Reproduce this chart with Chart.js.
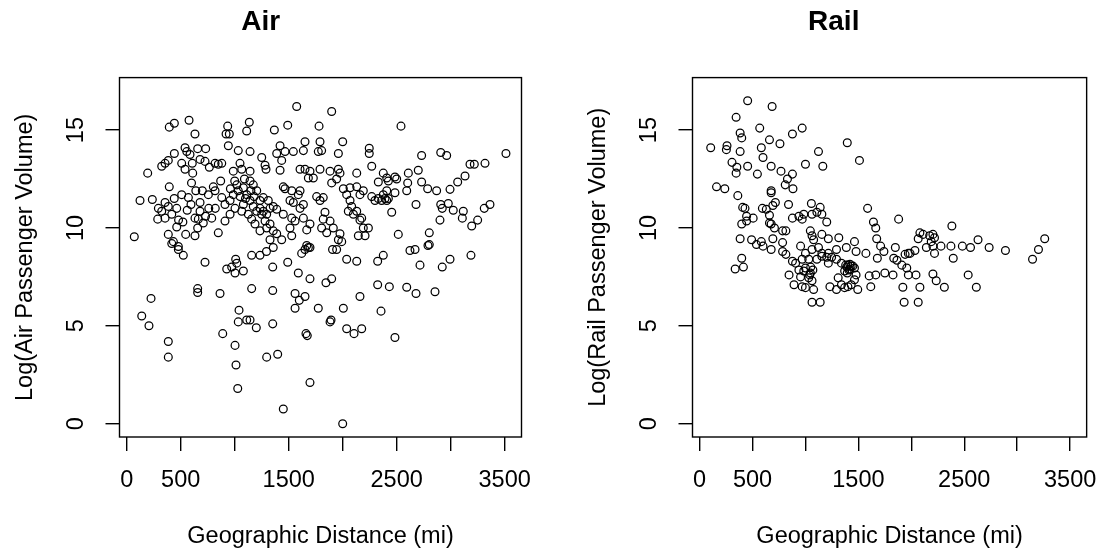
<!DOCTYPE html>
<html lang="en">
<head>
<meta charset="UTF-8">
<title>Air and Rail passenger volume vs distance</title>
<script src="https://cdn.jsdelivr.net/npm/chart.js"></script>
<style>
  html, body { margin: 0; padding: 0; background: #fff; overflow: hidden; }
  #wrap { position: relative; width: 1112px; height: 555px; }
  .panel { position: absolute; top: 0; height: 555px; }
  #panelAir { left: 0; width: 556px; }
  #panelRail { left: 573px; width: 539px; }
</style>
</head>
<body>
<div id="wrap">
  <div class="panel" id="panelAir"><canvas id="chartAir"></canvas></div>
  <div class="panel" id="panelRail"><canvas id="chartRail"></canvas></div>
</div>
<script>
// axis ticks (R drops the labels that would overlap)
const xTicks = [0, 500, 1000, 1500, 2000, 2500, 3000, 3500];
const xTickLabels = ['0', '500', '', '1500', '', '2500', '', '3500'];
const yTicks = [0, 5, 10, 15];
const yTickLabels = ['0', '5', '10', '15'];

// Air: distance (mi) and log passenger volume
const airDistance = [
  441, 394, 577, 632, 935, 950, 920, 1135, 1111, 194,
  324, 355, 385, 441, 540, 556, 586, 657, 731, 509,
  540, 607, 611, 679, 725, 765, 818, 848, 880, 941,
  1033, 1142, 987, 1049, 1065, 1142, 394, 509, 123, 237,
  293, 355, 385, 324, 287, 355, 463, 417, 571, 595,
  679, 679, 663, 787, 802, 756, 818, 880, 910, 957,
  987, 1033, 1080, 1111, 1142, 1003, 1065, 1126, 957, 910,
  385, 463, 546, 632, 657, 709, 632, 848, 70, 432,
  478, 225, 139, 206, 385, 385, 725, 657, 657, 864,
  1040, 1033, 1111, 889, 1003, 1012, 1028, 926, 972, 1009,
  1019, 1003, 1080, 1157, 1157, 1200, 417, 478, 524, 1234,
  1294, 1357, 1651, 1620, 1682, 1906, 1944, 1352, 1491, 1589,
  1697, 1845, 1898, 2037, 2130, 2324, 2376, 2324, 2432, 1352,
  1559, 1598, 1651, 1559, 1774, 2006, 2160, 2355, 1892, 1883,
  2037, 2105, 2176, 1660, 1672, 1142, 1352, 1296, 1398, 1697,
  1450, 2000, 2623, 2670, 2790, 2716, 2922, 2994, 3188, 2593,
  2679, 2855, 2484, 2540, 2731, 2908, 2963, 3512, 3179, 3219,
  3318, 3133, 3065, 2700, 2608, 2484, 2500, 2423, 2602, 2593,
  2484, 2731, 2787, 2870, 2994, 2392, 2679, 2454, 2908, 2922,
  2978, 3024, 3117, 3108, 2901, 3250, 3195, 3311, 3364, 2515,
  2802, 2802, 1574, 1898, 1367, 1491, 1781, 1651, 1790, 2000,
  1774, 1805, 1960, 2246, 2246, 1420, 1389, 1466, 1543, 1636,
  1420, 1435, 1250, 1281, 1290, 2269, 1605, 1651, 1697, 1728,
  1682, 1790, 1883, 1960, 1975, 2130, 1898, 1944, 2330, 2376,
  2408, 2006, 2068, 2130, 2160, 2191, 2269, 2299, 2376, 2408,
  1450, 1466, 1528, 1605, 1589, 1265, 1311, 1234, 1327, 1357,
  1389, 1172, 1296, 1512, 1543, 1605, 1636, 1759, 1790, 1820,
  1836, 1820, 1883, 1913, 1805, 1852, 1697, 1667, 1512, 1528,
  1450, 1636, 1559, 2037, 2068, 2083, 2052, 2099, 2130, 2160,
  2191, 2207, 2145, 2176, 2238, 2330, 2361, 2408, 2423, 1975,
  1960, 1991, 1528, 1667, 1697, 1142, 1172, 1204, 1234, 1265,
  1204, 1250, 1281, 1327, 1357, 1389, 1435, 1327, 1234, 1188,
  1157, 1296, 1080, 1100, 1050, 1020, 1150, 1180, 1090, 1000,
  960, 870, 820, 760, 730, 700, 640, 600, 560, 480,
  520, 440
];
const airVolume = [
  15.35, 15.15, 15.5, 14.8, 15.2, 14.8, 14.8, 15.4, 14.95, 12.8,
  13.15, 13.3, 13.45, 13.8, 14.1, 13.9, 13.75, 14.05, 14.05, 13.3,
  13.0, 13.3, 12.8, 13.5, 13.4, 13.1, 13.3, 13.25, 13.3, 14.2,
  13.95, 13.9, 12.9, 13.3, 13.0, 12.9, 12.1, 11.7, 11.4, 11.45,
  11.0, 11.3, 11.1, 10.85, 10.45, 10.5, 11.0, 10.7, 11.55, 11.2,
  11.3, 10.85, 10.45, 10.5, 12.1, 11.7, 11.9, 11.55, 11.2, 11.4,
  11.7, 11.9, 12.05, 11.7, 11.4, 11.0, 10.85, 10.7, 10.7, 10.35,
  9.67, 10.05, 9.67, 9.6, 10.0, 10.25, 10.5, 9.75, 9.55, 9.3,
  9.05, 6.4, 5.5, 5.0, 4.2, 3.4, 8.25, 6.9, 6.7, 6.65,
  5.8, 5.2, 5.3, 4.6, 4.0, 3.0, 1.8, 7.9, 8.0, 8.4,
  8.2, 7.7, 7.8, 8.6, 6.9, 4.9, 9.2, 8.9, 8.6, 8.6,
  8.8, 9.0, 8.9, 8.7, 9.0, 8.9, 8.9, 8.0, 8.25, 7.7,
  7.4, 7.2, 7.4, 8.4, 8.3, 8.3, 8.6, 7.1, 7.0, 6.8,
  6.65, 6.3, 6.5, 5.9, 5.9, 5.9, 6.5, 5.75, 5.3, 5.2,
  4.85, 4.6, 4.85, 4.6, 4.5, 5.3, 5.1, 3.4, 3.55, 2.1,
  0.75, 0.0, 8.85, 8.9, 9.1, 8.1, 8.0, 8.4, 8.6, 6.97,
  6.65, 6.74, 4.4, 15.2, 13.7, 13.85, 13.7, 13.8, 13.25, 13.25,
  13.3, 12.65, 12.35, 12.95, 12.8, 12.6, 12.5, 12.4, 12.3, 11.9,
  11.8, 12.35, 12.0, 11.9, 11.97, 11.5, 11.2, 10.8, 11.2, 11.0,
  11.25, 10.9, 10.85, 10.5, 10.4, 10.4, 10.1, 11.0, 11.2, 9.67,
  9.75, 9.15, 16.2, 15.95, 15.0, 15.25, 15.2, 14.4, 14.4, 14.4,
  13.9, 13.95, 13.8, 14.07, 13.8, 14.2, 13.8, 13.9, 13.9, 13.95,
  12.95, 13.45, 13.6, 13.2, 13.0, 13.15, 13.0, 13.0, 12.9, 12.55,
  12.55, 13.0, 12.9, 13.0, 12.8, 12.8, 12.3, 12.5, 12.35, 12.8,
  12.55, 12.0, 12.05, 12.1, 11.7, 11.9, 11.6, 11.4, 11.7, 11.4,
  12.1, 12.0, 11.9, 11.9, 11.7, 11.55, 11.4, 11.0, 11.0, 11.1,
  10.95, 11.1, 10.7, 11.4, 11.3, 11.0, 11.2, 11.6, 11.4, 11.55,
  10.8, 10.45, 10.35, 10.0, 10.0, 9.75, 10.2, 9.9, 10.0, 10.5,
  10.7, 10.5, 10.35, 11.7, 11.4, 11.1, 10.85, 10.7, 10.85, 10.4,
  10.0, 9.6, 9.6, 10.5, 10.0, 11.5, 11.4, 11.9, 11.5, 9.7,
  9.4, 9.3, 9.6, 9.1, 9.0, 12.4, 12.2, 11.9, 11.4, 10.85,
  10.85, 10.7, 10.35, 10.2, 9.85, 9.7, 9.4, 9.4, 9.85, 10.2,
  10.45, 10.0, 11.2, 11.5, 11.6, 12.2, 11.9, 11.6, 12.5, 12.4,
  12.0, 12.4, 11.0, 11.0, 10.6, 11.9, 11.9, 12.3, 10.9, 10.4,
  10.3, 11.5
];

// Rail
const railDistance = [
  454, 685, 345, 568, 969, 877, 383, 398, 105, 259,
  253, 383, 660, 759, 583, 599, 1123, 1395, 1510, 306,
  352, 345, 454, 546, 676, 769, 877, 1000, 1164, 830,
  809, 882, 160, 238, 361, 676, 676, 716, 407, 429,
  444, 506, 444, 593, 630, 660, 692, 840, 1056, 1139,
  877, 938, 969, 984, 1062, 1108, 1155, 1201, 1587, 1642,
  1664, 1673, 660, 676, 707, 784, 815, 398, 383, 491,
  583, 692, 784, 1046, 1062, 1077, 1155, 1216, 1315, 1463,
  398, 414, 336, 537, 599, 676, 784, 815, 954, 1000,
  1062, 1123, 1155, 1216, 1293, 1386, 1478, 1571, 1679, 1741,
  1710, 877, 907, 969, 1000, 984, 938, 954, 845, 892,
  969, 1000, 1046, 1031, 1062, 1077, 1062, 1139, 1031, 1108,
  1155, 1216, 1201, 1293, 1247, 1340, 1401, 1432, 1463, 1417,
  1370, 1309, 1340, 1370, 1401, 1432, 1463, 1494, 1231, 1293,
  1448, 1478, 1602, 1664, 1750, 1617, 1880, 2383, 2081, 2111,
  2065, 2173, 2204, 2219, 2188, 2630, 3260, 1849, 1988, 2034,
  2142, 2204, 2219, 2280, 2374, 2482, 2559, 2735, 2889, 3201,
  3145, 1834, 1864, 1910, 1957, 1941, 1972, 2396, 1827, 1972,
  2044, 2204, 2235, 2312, 2537, 2614, 1920, 2081, 1932, 2065,
  1390, 1410, 1380, 1420, 1395, 1050, 1070, 1040
];
const railVolume = [
  16.5, 16.2, 15.65, 15.1, 15.1, 14.8, 14.85, 14.6, 14.1, 14.2,
  14.0, 13.9, 14.5, 14.3, 14.1, 13.6, 13.9, 14.35, 13.45, 13.35,
  13.1, 12.8, 13.15, 12.75, 13.15, 12.9, 12.75, 13.25, 13.15, 12.5,
  12.2, 12.0, 12.1, 12.0, 11.65, 11.9, 11.8, 11.3, 11.05, 11.0,
  10.6, 10.5, 10.35, 11.0, 10.95, 10.65, 11.15, 11.2, 11.25, 11.05,
  10.5, 10.6, 10.45, 10.7, 10.7, 10.8, 10.7, 10.3, 11.0, 10.3,
  10.0, 9.45, 10.25, 10.2, 10.0, 9.85, 9.85, 10.2, 9.45, 9.4,
  9.3, 9.45, 9.25, 9.85, 9.6, 9.4, 9.67, 9.45, 9.5, 9.3,
  8.45, 8.0, 7.9, 9.15, 9.07, 8.9, 8.8, 8.65, 9.07, 8.7,
  8.9, 9.0, 8.7, 8.7, 8.9, 9.0, 8.8, 8.7, 8.45, 8.8,
  9.07, 8.3, 8.2, 8.4, 7.95, 7.8, 7.85, 7.5, 7.6, 7.1,
  7.0, 6.95, 7.7, 7.45, 7.3, 6.85, 6.2, 6.2, 8.4, 8.4,
  8.55, 8.2, 8.5, 8.4, 8.5, 8.2, 8.1, 8.05, 7.95, 7.9,
  7.8, 7.45, 7.1, 6.95, 7.0, 7.1, 7.35, 6.85, 7.0, 6.85,
  8.05, 7.6, 7.55, 7.6, 7.7, 7.0, 10.45, 10.1, 9.75, 9.67,
  9.45, 9.6, 9.67, 9.5, 9.3, 9.4, 9.45, 9.0, 8.7, 8.85,
  9.0, 9.07, 8.7, 9.07, 9.07, 9.07, 9.0, 9.0, 8.85, 8.9,
  8.4, 8.45, 8.35, 8.1, 7.95, 8.65, 8.7, 8.45, 7.6, 7.6,
  7.6, 7.65, 7.3, 6.97, 7.6, 6.97, 6.97, 6.97, 6.2, 6.2,
  8.0, 7.85, 8.1, 8.15, 7.7, 8.0, 7.85, 7.6
];

const FONT = '"Liberation Sans", Arial, Helvetica, sans-serif';
const TXT = 23.5;

function pairs(xs, ys) {
  if (xs.length !== ys.length) console.warn('length mismatch', xs.length, ys.length);
  return xs.map((x, i) => ({ x: x, y: ys[i] }));
}

// box around the plot region + y tick labels written upwards, like R
const rFrame = {
  id: 'rFrame',
  afterDraw(chart) {
    const { ctx, chartArea: a, scales } = chart;
    ctx.save();
    ctx.strokeStyle = '#000';
    ctx.lineWidth = 1.4;
    ctx.strokeRect(a.left, a.top, a.right - a.left, a.bottom - a.top);
    ctx.fillStyle = '#000';
    ctx.font = TXT + 'px ' + FONT;
    ctx.textAlign = 'center';
    ctx.textBaseline = 'middle';
    yTicks.forEach((v, i) => {
      const py = scales.y.getPixelForValue(v);
      ctx.save();
      ctx.translate(a.left - 43, py);
      ctx.rotate(-Math.PI / 2);
      ctx.fillText(yTickLabels[i], 0, 0);
      ctx.restore();
    });
    ctx.restore();
  }
};

function makeChart(id, title, yTitle, xs, ys, rightPad) {
  const ctx = document.getElementById(id).getContext('2d');
  return new Chart(ctx, {
    type: 'scatter',
    data: {
      datasets: [{
        data: pairs(xs, ys),
        pointStyle: 'circle',
        pointRadius: 3.9,
        pointHoverRadius: 3.9,
        borderWidth: 1.25,
        borderColor: '#000',
        backgroundColor: 'rgba(0,0,0,0)'
      }]
    },
    options: {
      responsive: true,
      maintainAspectRatio: false,
      animation: false,
      events: [],
      layout: { padding: { left: 0, right: rightPad, top: 0, bottom: 0 } },
      plugins: {
        legend: { display: false },
        tooltip: { enabled: false },
        title: {
          display: true,
          text: title,
          color: '#000',
          font: { family: FONT, size: 28, weight: 'bold', lineHeight: 1.2 },
          padding: { top: 5, bottom: 39 }
        }
      },
      scales: {
        x: {
          type: 'linear',
          min: -67,
          max: 3656,
          afterBuildTicks: s => { s.ticks = xTicks.map(v => ({ value: v })); },
          afterFit: s => { s.height = 118; },
          ticks: {
            autoSkip: false,
            maxRotation: 0,
            color: '#000',
            padding: 15,
            font: { family: FONT, size: TXT },
            callback: (v, i) => xTickLabels[i]
          },
          grid: { drawOnChartArea: false, drawTicks: true, tickLength: 14, color: '#000', lineWidth: 1.4 },
          border: { display: false },
          title: {
            display: true,
            text: 'Geographic Distance (mi)',
            color: '#000',
            font: { family: FONT, size: TXT },
            padding: { top: 0, bottom: 4 }
          }
        },
        y: {
          type: 'linear',
          min: -0.68,
          max: 17.68,
          afterBuildTicks: s => { s.ticks = yTicks.map(v => ({ value: v })); },
          afterFit: s => { s.width = 119.5; },
          ticks: { display: false },
          grid: { drawOnChartArea: false, drawTicks: true, tickLength: 14, color: '#000', lineWidth: 1.4 },
          border: { display: false },
          title: {
            display: true,
            text: yTitle,
            color: '#000',
            font: { family: FONT, size: TXT },
            padding: { top: 11, bottom: 0 }
          }
        }
      }
    },
    plugins: [rFrame]
  });
}

makeChart('chartAir', 'Air', 'Log(Air Passenger Volume)', airDistance, airVolume, 34.5);
makeChart('chartRail', 'Rail', 'Log(Rail Passenger Volume)', railDistance, railVolume, 17.5);
</script>
</body>
</html>
